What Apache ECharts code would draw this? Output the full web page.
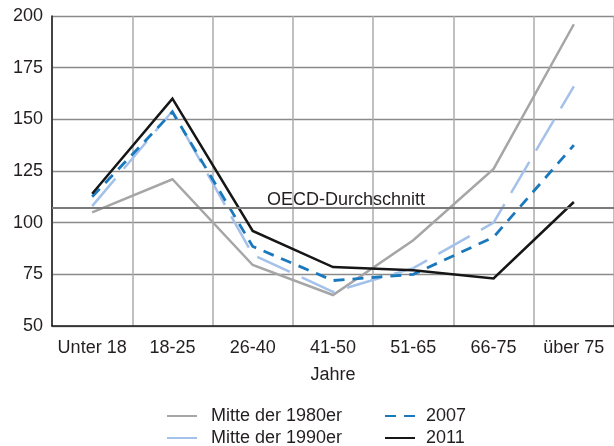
<!DOCTYPE html>
<html>
<head>
<meta charset="utf-8">
<script src="https://cdn.jsdelivr.net/npm/echarts@6/dist/echarts.min.js"></script>
<style>
  html, body { margin: 0; padding: 0; background: #fff; }
  #chart { width: 614px; height: 446px; }
</style>
</head>
<body>
<div id="chart"></div>
<script>
// Altersgruppen (x-Achse)
const categories = ['Unter 18', '18-25', '26-40', '41-50', '51-65', '66-75', 'über 75']
const yTicks = [50, 75, 100, 125, 150, 175, 200]

// Werte relativ zum OECD-Durchschnitt
const mitte1980 = [105, 121, 79.5, 65, 91.5, 126, 196]
const mitte1990 = [108, 154, 84.5, 66.5, 78, 100, 166]
const jahr2007 = [112.5, 153.5, 88.5, 72, 75, 93, 137.5]
const jahr2011 = [114, 160, 96, 78.5, 77, 73, 110]
const oecdAvg = 107

const FONT = 'Liberation Sans, Arial, Helvetica, sans-serif'
const TXT = '#231f20'

const chart = echarts.init(document.getElementById('chart'))

const lineSeries = (name, data, color, type, width) => ({
  name,
  type: 'line',
  data,
  symbol: 'none',
  silent: true,
  animation: false,
  lineStyle: { color, width, type, cap: 'butt', join: 'miter' },
  itemStyle: { color }
})

const s1980 = lineSeries('Mitte der 1980er', mitte1980, '#a6a6a6', 'solid', 2.5)
// Durchschnittslinie haengt an der ersten Reihe
s1980.markLine = {
  silent: true,
  symbol: 'none',
  animation: false,
  lineStyle: { color: '#7a7a7a', width: 2, type: 'solid' },
  label: {
    show: true,
    position: 'insideMiddleTop',
    formatter: 'OECD-Durchschnitt',
    fontFamily: FONT,
    fontSize: 18,
    color: TXT,
    distance: -1,
    padding: [0, 0, 0, 26]
  },
  data: [{ yAxis: oecdAvg }]
}

// Legende: je Eintrag eine eigene Legende, 2 Spalten x 2 Zeilen
const legendItems = [
  { name: 'Mitte der 1980er', left: 166, top: 407 },
  { name: 'Mitte der 1990er', left: 166, top: 429 },
  { name: '2007', left: 384, top: 407 },
  { name: '2011', left: 384, top: 429 }
]

const option = {
  backgroundColor: '#fff',
  animation: false,
  grid: { left: 52, top: 16, right: -2, bottom: 120 },
  xAxis: {
    type: 'category',
    data: categories,
    boundaryGap: true,
    name: 'Jahre',
    nameLocation: 'middle',
    nameGap: 40,
    nameTextStyle: { fontFamily: FONT, fontSize: 18, color: TXT },
    axisLine: { lineStyle: { color: '#1a1a1a', width: 1.5 } },
    axisTick: { show: false },
    axisLabel: { interval: 0, fontFamily: FONT, fontSize: 18, color: TXT, margin: 13 },
    splitLine: { show: true, interval: 0, lineStyle: { color: '#ababab', width: 1.5 } }
  },
  yAxis: {
    type: 'value',
    min: yTicks[0],
    max: yTicks[yTicks.length - 1],
    interval: 25,
    axisLine: { show: true, lineStyle: { color: '#1a1a1a', width: 1.5 } },
    axisTick: { show: false },
    axisLabel: { fontFamily: FONT, fontSize: 18, color: TXT, margin: 9 },
    splitLine: { lineStyle: { color: '#8a8a8a', width: 1.3 } }
  },
  legend: legendItems.map(it => ({
    left: it.left,
    top: it.top,
    padding: 0,
    itemWidth: 30,
    itemHeight: 14,
    selectedMode: false,
    itemStyle: { color: 'rgba(0,0,0,0)', borderColor: 'rgba(0,0,0,0)', borderWidth: 0 },
    textStyle: { fontFamily: FONT, fontSize: 18, color: TXT, padding: [0, 0, 0, it.left > 300 ? 6 : 9] },
    data: [it.name]
  })),
  series: [
    s1980,
    lineSeries('Mitte der 1990er', mitte1990, '#a3c1e9', [36, 13], 2.5),
    lineSeries('2007', jahr2007, '#1a78bd', [11, 8], 2.8),
    lineSeries('2011', jahr2011, '#161616', 'solid', 2.5)
  ]
}

chart.setOption(option)
</script>
</body>
</html>
